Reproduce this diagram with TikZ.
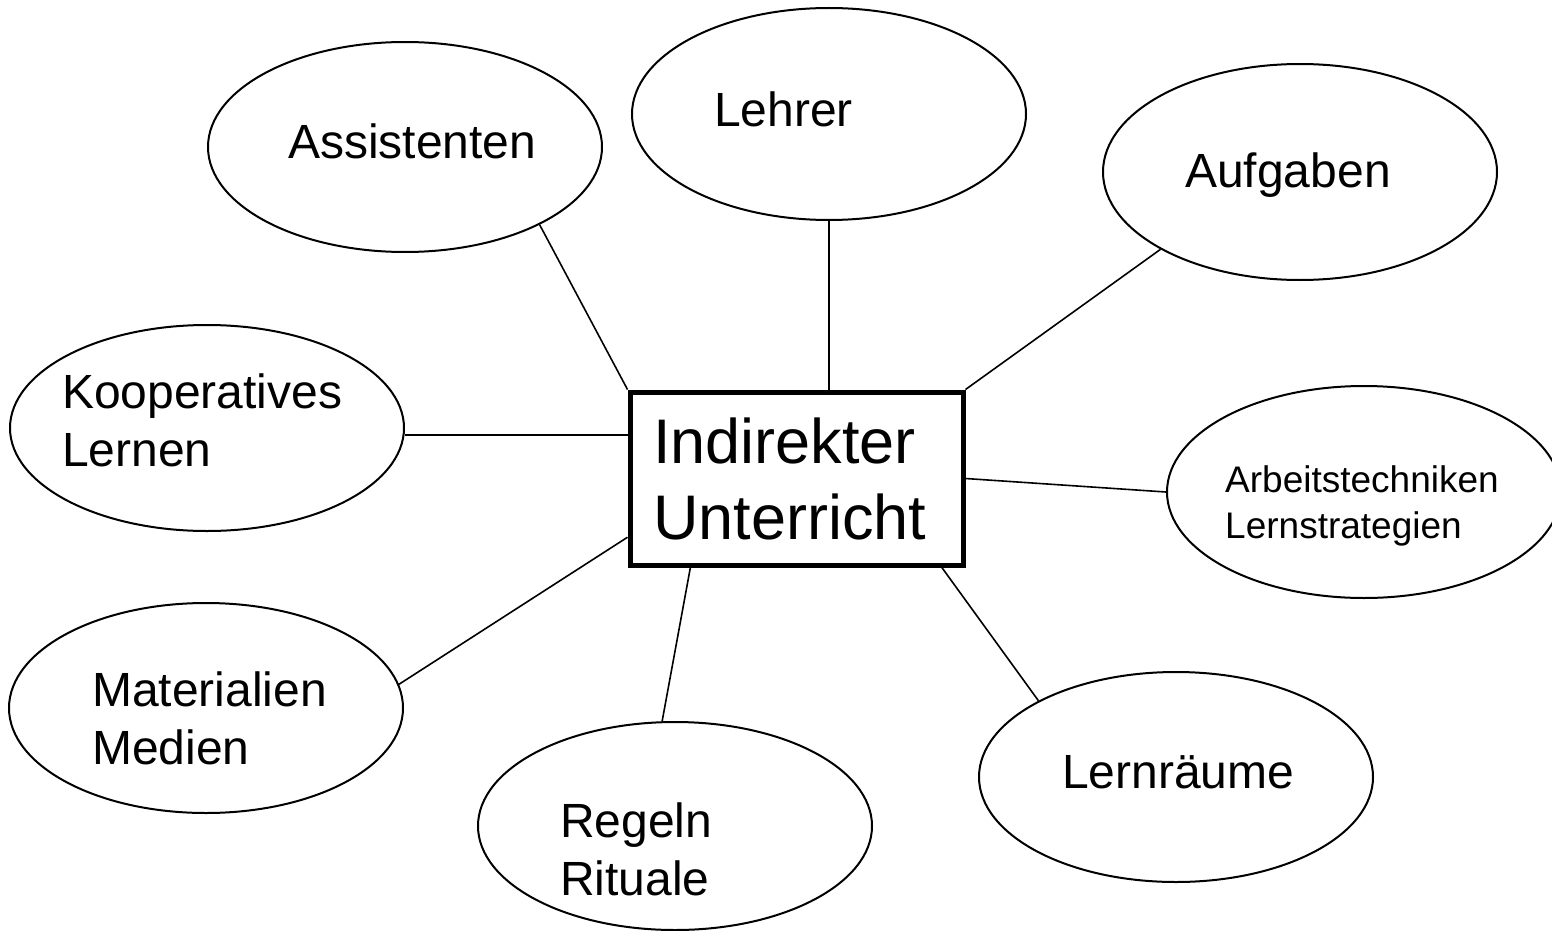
\documentclass[tikz,border=0pt]{standalone}
\usepackage{fontspec}
\setmainfont{Liberation Sans}
\usetikzlibrary{shapes.geometric,calc}
\begin{document}
\begin{tikzpicture}[x=1pt,y=-1pt,
  bubble/.style={draw,ellipse,line width=2pt,inner sep=0pt,minimum width=394pt,minimum height=210pt},
  lbl/.style={inner sep=0pt,align=left,font=\fontsize{48}{57.6}\selectfont},
  small/.style={inner sep=0pt,align=left,font=\fontsize{37}{46.5}\selectfont},
  centerbox/.style={draw,rectangle,line width=5pt,minimum width=333pt,minimum height=173pt,inner sep=0pt},
  link/.style={line width=1.6pt}]
\useasboundingbox (0,0) rectangle (1552,931);
\fill[white] (0,0) rectangle (1552,931);
% central box
\node[centerbox] (box) at (796.5,478.5) {};
\node[inner sep=0pt,align=left,font=\fontsize{63}{76}\selectfont,anchor=base west] (boxT) at (653,539) {Indirekter\\Unterricht};
% ellipses
\node[bubble] (ass) at (405,147) {};
\node[bubble,minimum height=212pt] (leh) at (829,114) {};
\node[bubble,minimum height=216pt] (auf) at (1300,172) {};
\node[bubble,minimum height=206pt] (koo) at (207,428) {};
\node[bubble,minimum height=212pt] (arb) at (1364,492) {};
\node[bubble] (mat) at (206,708) {};
\node[bubble,minimum height=208pt] (reg) at (675,826) {};
\node[bubble] (lrn) at (1176,777) {};
% texts
\node[lbl,anchor=base west] (assT) at (288,158) {Assistenten};
\node[lbl,anchor=base west] (lehT) at (714,127) {Lehrer};
\node[lbl,anchor=base west] (aufT) at (1185,187) {Aufgaben};
\node[lbl,anchor=base west] (kooT) at (62,466) {Kooperatives\\Lernen};
\node[small,anchor=base west] (arbT) at (1225,538.5) {Arbeitstechniken\\Lernstrategien};
\node[lbl,anchor=base west] (matT) at (92,764) {Materialien\\Medien};
\node[lbl,anchor=base west] (regT) at (560,895) {Regeln\\Rituale};
\node[lbl,anchor=base west] (lrnT) at (1062,788) {Lernräume};
% connectors
\draw[link] (ass.-30) -- (box.north west);
\draw[link] (leh.south) -- (leh.south |- box.north);
\draw[link] (auf.209) -- (box.north east);
\draw[link] (koo.-2) -- (koo.-2 -| box.west);
\draw[link] (arb.180) -- (box.east);
\draw[link] (mat.7.6) -- ($(box.south west)!0.17!(box.north west)$);
\draw[link] (reg.97) -- ($(box.south west)!0.186!(box.south east)$);
\draw[link] (lrn.151.6) -- ($(box.south west)!0.93!(box.south east)$);
\end{tikzpicture}
\end{document}
